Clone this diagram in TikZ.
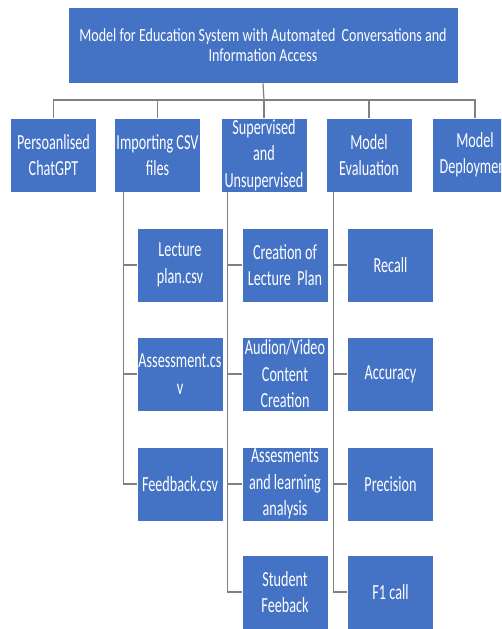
\documentclass[tikz,border=0pt]{standalone}
\usepackage{fontspec}
\setmainfont[FakeStretch=0.76]{Carlito}
\newfontfamily\boxfont[FakeStretch=0.66]{Carlito}
\usetikzlibrary{positioning}
\definecolor{boxc}{HTML}{4472C4}
\colorlet{linec}{black!50}

\begin{document}
\begin{tikzpicture}[x=1pt,y=-1pt,
  box/.style={fill=boxc,draw=white,line width=0.6pt,text=white,inner sep=0pt,align=center,
    minimum width=86pt,minimum height=74pt,font=\boxfont\fontsize{21.5}{26.5}\selectfont},
  conn/.style={draw=linec,line width=1.2pt}]
\useasboundingbox (0,0) rectangle (501,629);
\clip (0,0) rectangle (501,629);

\node[box,minimum width=390pt,minimum height=76pt,font=\fontsize{18.5}{20}\selectfont] (top) at (263,45)
  {Model for Education System with Automated \ Conversations and\\Information Access};

\node[box] (c1) at (53.5,155) {Persoanlised\\ChatGPT};
\node[box] (c2) at (157.5,155) {Importing CSV\\files};
\node[box] (c3) at (264,155) {Supervised\\and\\Unsupervised};
\node[box] (c4) at (369,155) {Model\\Evaluation};
\node[box] (c5) at (475,155) {Model\\Deployment};

\node[box] (f1) at (180,265) {Lecture\\plan.csv};
\node[box] (f2) at (180,374) {Assessment.cs\\v};
\node[box] (f3) at (180,484) {Feedback.csv};

\node[box] (s1) at (285,265) {Creation of\\Lecture \ Plan};
\node[box] (s2) at (285,374) {Audion/Video\\Content\\Creation};
\node[box] (s3) at (285,484) {Assesments\\and learning\\analysis};
\node[box] (s4) at (285,592) {Student\\Feeback};

\node[box] (e1) at (390.5,265) {Recall};
\node[box] (e2) at (390.5,374) {Accuracy};
\node[box] (e3) at (390.5,484) {Precision};
\node[box] (e4) at (390.5,592) {F1 call};

\coordinate (bar) at (264,100);
\coordinate (sp2) at ([xshift=9pt]c2.south west);
\coordinate (sp3) at ([xshift=7pt]c3.south west);
\coordinate (sp4) at ([xshift=8pt]c4.south west);

\draw[conn] (top.south) -- (bar);
\foreach \n in {c1,c2,c3,c4,c5}
  \draw[conn] (bar) -| (\n.north);
\foreach \k in {f1,f2,f3}
  \draw[conn] (sp2) |- (\k.west);
\foreach \k in {s1,s2,s3,s4}
  \draw[conn] (sp3) |- (\k.west);
\foreach \k in {e1,e2,e3,e4}
  \draw[conn] (sp4) |- (\k.west);
\end{tikzpicture}
\end{document}
